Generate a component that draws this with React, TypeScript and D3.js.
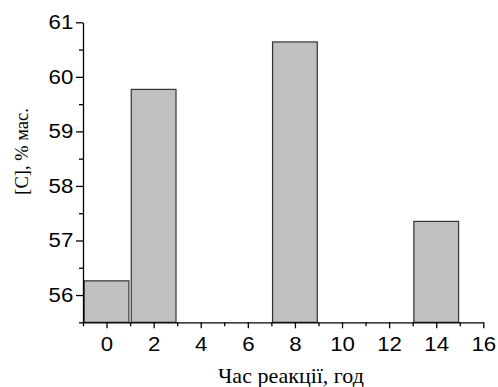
import React, { useRef, useEffect } from "react";
import * as d3 from "d3";

// data
const hours = [0, 2, 8, 14];
const carbon = [56.26, 59.77, 60.64, 57.35];
const xTicks = [0, 2, 4, 6, 8, 10, 12, 14, 16];
const xMinorTicks = [-1, 1, 3, 5, 7, 9, 11, 13, 15];
const yTicks = [56, 57, 58, 59, 60, 61];
const yMinorTicks = [55.5, 56.5, 57.5, 58.5, 59.5, 60.5];

export default function App() {
  const ref = useRef<SVGSVGElement | null>(null);

  useEffect(() => {
    const node = ref.current;
    if (!node) return;
    const svg = d3.select(node);
    svg.selectAll("*").remove();

    const left = 83;
    const right = 483.3;
    const top = 22.3;
    const bottom = 322.3;

    const x = d3.scaleLinear().domain([-1, 16]).range([left, right]);
    const y = d3.scaleLinear().domain([55.5, 61]).range([bottom, top]);
    const barW = 1.9;

    const rows = hours.map((h, i) => ({ h, v: carbon[i] }));

    // Bars
    svg
      .append("g")
      .selectAll("rect")
      .data(rows)
      .enter()
      .append("rect")
      .attr("x", (d) => Math.max(x(d.h - barW / 2), left))
      .attr("width", (d) => x(d.h + barW / 2) - Math.max(x(d.h - barW / 2), left))
      .attr("y", (d) => y(d.v))
      .attr("height", (d) => y(55.5) - y(d.v))
      .attr("fill", "#c0c0c0")
      .attr("stroke", "#333")
      .attr("stroke-width", 1.2);

    const tickFont = "'Liberation Sans', Arial, sans-serif";
    const serif = "'Liberation Serif', 'Times New Roman', serif";

    // X axis
    svg
      .append("g")
      .attr("transform", `translate(0, ${bottom})`)
      .call(
        d3.axisBottom(x).tickValues(xTicks).tickSize(6).tickSizeOuter(0).tickPadding(9).tickFormat(d3.format("d"))
      );
    svg
      .append("g")
      .attr("transform", `translate(0, ${bottom})`)
      .call(d3.axisBottom(x).tickValues(xMinorTicks).tickSize(4).tickSizeOuter(0).tickFormat(() => ""))
      .select(".domain")
      .remove();

    // Y axis
    svg
      .append("g")
      .attr("transform", `translate(${left}, 0)`)
      .call(d3.axisLeft(y).tickValues(yTicks).tickSize(7).tickSizeOuter(0).tickPadding(1.5).tickFormat(d3.format("d")));
    svg
      .append("g")
      .attr("transform", `translate(${left}, 0)`)
      .call(d3.axisLeft(y).tickValues(yMinorTicks).tickSize(4).tickSizeOuter(0).tickFormat(() => ""))
      .select(".domain")
      .remove();

    svg.selectAll(".domain, .tick line").attr("stroke", "#000").attr("stroke-width", 1.3);
    // the reference digits are a little wider than Arial, so stretch them
    svg
      .selectAll(".tick text")
      .attr("fill", "#000")
      .attr("font-family", tickFont)
      .attr("font-size", "19.5px")
      .attr("transform", "scale(1.14,1)");

    // Axis titles
    svg
      .append("text")
      .attr("x", 291)
      .attr("y", 383)
      .attr("text-anchor", "middle")
      .attr("font-family", serif)
      .attr("font-size", "22px")
      .attr("fill", "#000")
      .text("Час реакції, год");

    svg
      .append("text")
      .attr("transform", `translate(28, 151.5) rotate(-90)`)
      .attr("text-anchor", "middle")
      .attr("font-family", serif)
      .attr("font-size", "18.5px")
      .attr("fill", "#000")
      .text("[C], % мас.");

    return () => {
      svg.selectAll("*").remove();
    };
  }, []);

  return (
    <svg
      ref={ref}
      width={498}
      height={387}
      style={{ position: "absolute", left: 0, top: 0, background: "#fff" }}
    />
  );
}
